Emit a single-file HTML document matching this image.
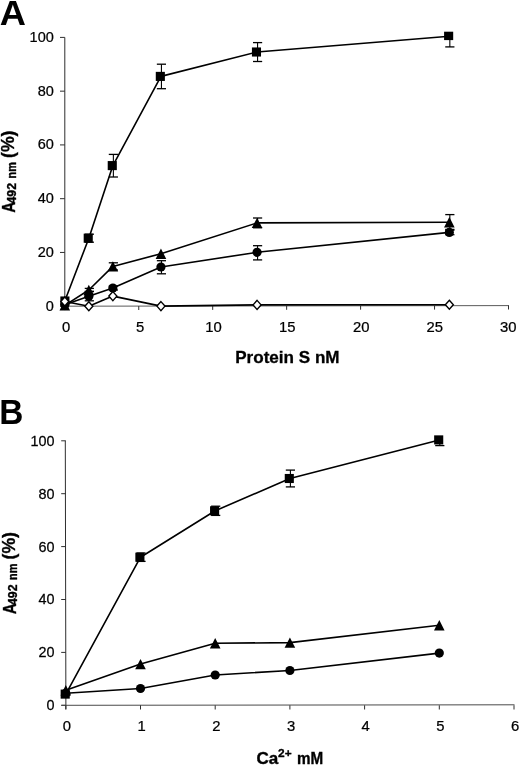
<!DOCTYPE html>
<html><head><meta charset="utf-8"><title>Figure</title>
<style>
html,body{margin:0;padding:0;background:#fff;}
body{width:520px;height:767px;overflow:hidden;font-family:"Liberation Sans",sans-serif;}
svg{display:block;will-change:transform;}
svg text{font-family:"Liberation Sans",sans-serif;fill:#000;}
</style></head>
<body>
<svg width="520" height="767" viewBox="0 0 520 767">
<rect x="0" y="0" width="520" height="767" fill="#fff"/>
<!-- panel A axes -->
<path d="M64.8 37.4V306.7" stroke="#2e2e2e" stroke-width="1" fill="none"/>
<path d="M60 306.2H64.8" stroke="#2e2e2e" stroke-width="1" fill="none"/>
<path d="M60 252.44H64.8" stroke="#2e2e2e" stroke-width="1" fill="none"/>
<path d="M60 198.68H64.8" stroke="#2e2e2e" stroke-width="1" fill="none"/>
<path d="M60 144.92H64.8" stroke="#2e2e2e" stroke-width="1" fill="none"/>
<path d="M60 91.16H64.8" stroke="#2e2e2e" stroke-width="1" fill="none"/>
<path d="M60 37.4H64.8" stroke="#2e2e2e" stroke-width="1" fill="none"/>
<path d="M64.8 306.2L509 305.6" stroke="#5a5a5a" stroke-width="1" fill="none"/>
<path d="M64.8 306.2V310.1" stroke="#2e2e2e" stroke-width="1" fill="none"/>
<path d="M138.75 306.1V310" stroke="#2e2e2e" stroke-width="1" fill="none"/>
<path d="M212.7 306V309.9" stroke="#2e2e2e" stroke-width="1" fill="none"/>
<path d="M286.65 305.9V309.8" stroke="#2e2e2e" stroke-width="1" fill="none"/>
<path d="M360.6 305.8V309.7" stroke="#2e2e2e" stroke-width="1" fill="none"/>
<path d="M434.55 305.7V309.6" stroke="#2e2e2e" stroke-width="1" fill="none"/>
<path d="M508.5 305.6V309.5" stroke="#2e2e2e" stroke-width="1" fill="none"/>
<text transform="translate(53.8 310.75) scale(0.955 1)" text-anchor="end" font-size="15.2" stroke="#000" stroke-width="0.25">0</text>
<text transform="translate(53.8 256.99) scale(0.955 1)" text-anchor="end" font-size="15.2" stroke="#000" stroke-width="0.25">20</text>
<text transform="translate(53.8 203.23) scale(0.955 1)" text-anchor="end" font-size="15.2" stroke="#000" stroke-width="0.25">40</text>
<text transform="translate(53.8 149.47) scale(0.955 1)" text-anchor="end" font-size="15.2" stroke="#000" stroke-width="0.25">60</text>
<text transform="translate(53.8 95.71) scale(0.955 1)" text-anchor="end" font-size="15.2" stroke="#000" stroke-width="0.25">80</text>
<text transform="translate(53.8 41.95) scale(0.955 1)" text-anchor="end" font-size="15.2" stroke="#000" stroke-width="0.25">100</text>
<text transform="translate(66 332.4) scale(0.97 1)" text-anchor="middle" font-size="15.3" stroke="#000" stroke-width="0.25">0</text>
<text transform="translate(140.15 332.4) scale(0.97 1)" text-anchor="middle" font-size="15.3" stroke="#000" stroke-width="0.25">5</text>
<text transform="translate(213.6 332.4) scale(0.97 1)" text-anchor="middle" font-size="15.3" stroke="#000" stroke-width="0.25">10</text>
<text transform="translate(287.35 332.4) scale(0.97 1)" text-anchor="middle" font-size="15.3" stroke="#000" stroke-width="0.25">15</text>
<text transform="translate(361.3 332.4) scale(0.97 1)" text-anchor="middle" font-size="15.3" stroke="#000" stroke-width="0.25">20</text>
<text transform="translate(434.65 332.4) scale(0.97 1)" text-anchor="middle" font-size="15.3" stroke="#000" stroke-width="0.25">25</text>
<text transform="translate(508.3 332.4) scale(0.97 1)" text-anchor="middle" font-size="15.3" stroke="#000" stroke-width="0.25">30</text>
<!-- panel A series -->
<polyline points="64.8,301 88.83,238.2 112.87,165.6 160.94,76.4 257.07,52 449.34,36.2" fill="none" stroke="#000" stroke-width="1.6" stroke-linejoin="round"/><path d="M89.33 238.2V234.2" stroke="#000" stroke-width="1.1" fill="none"/><path d="M84.73 234.2H93.93" stroke="#000" stroke-width="1.3" fill="none"/><path d="M89.33 238.2V242.2" stroke="#000" stroke-width="1.1" fill="none"/><path d="M84.73 242.2H93.93" stroke="#000" stroke-width="1.3" fill="none"/><path d="M113.37 165.6V154.4" stroke="#000" stroke-width="1.1" fill="none"/><path d="M108.77 154.4H117.97" stroke="#000" stroke-width="1.3" fill="none"/><path d="M113.37 165.6V177" stroke="#000" stroke-width="1.1" fill="none"/><path d="M108.77 177H117.97" stroke="#000" stroke-width="1.3" fill="none"/><path d="M161.44 76.4V64.2" stroke="#000" stroke-width="1.1" fill="none"/><path d="M156.84 64.2H166.03" stroke="#000" stroke-width="1.3" fill="none"/><path d="M161.44 76.4V88.7" stroke="#000" stroke-width="1.1" fill="none"/><path d="M156.84 88.7H166.03" stroke="#000" stroke-width="1.3" fill="none"/><path d="M257.57 52V42.6" stroke="#000" stroke-width="1.1" fill="none"/><path d="M252.97 42.6H262.17" stroke="#000" stroke-width="1.3" fill="none"/><path d="M257.57 52V61.5" stroke="#000" stroke-width="1.1" fill="none"/><path d="M252.97 61.5H262.17" stroke="#000" stroke-width="1.3" fill="none"/><path d="M449.84 36.2V46.9" stroke="#000" stroke-width="1.1" fill="none"/><path d="M445.24 46.9H454.44" stroke="#000" stroke-width="1.3" fill="none"/><rect x="60.35" y="296.45" width="9.1" height="9.1" fill="#000"/><rect x="83.68" y="233.65" width="9.1" height="9.1" fill="#000"/><rect x="107.72" y="161.05" width="9.1" height="9.1" fill="#000"/><rect x="155.78" y="71.85" width="9.1" height="9.1" fill="#000"/><rect x="251.92" y="47.45" width="9.1" height="9.1" fill="#000"/><rect x="444.09" y="31.7" width="9.1" height="8.4" fill="#000"/>
<polyline points="64.8,305.3 88.83,290 112.87,266.4 160.94,253.7 257.07,222.9 449.34,222.3" fill="none" stroke="#000" stroke-width="1.6" stroke-linejoin="round"/><path d="M89.33 290V288.4" stroke="#000" stroke-width="1.1" fill="none"/><path d="M84.73 288.4H93.93" stroke="#000" stroke-width="1.3" fill="none"/><path d="M89.33 290V291.6" stroke="#000" stroke-width="1.1" fill="none"/><path d="M84.73 291.6H93.93" stroke="#000" stroke-width="1.3" fill="none"/><path d="M113.37 266.4V262.8" stroke="#000" stroke-width="1.1" fill="none"/><path d="M108.77 262.8H117.97" stroke="#000" stroke-width="1.3" fill="none"/><path d="M113.37 266.4V270" stroke="#000" stroke-width="1.1" fill="none"/><path d="M108.77 270H117.97" stroke="#000" stroke-width="1.3" fill="none"/><path d="M257.57 222.9V218" stroke="#000" stroke-width="1.1" fill="none"/><path d="M252.97 218H262.17" stroke="#000" stroke-width="1.3" fill="none"/><path d="M257.57 222.9V227.8" stroke="#000" stroke-width="1.1" fill="none"/><path d="M252.97 227.8H262.17" stroke="#000" stroke-width="1.3" fill="none"/><path d="M449.84 222.3V214.6" stroke="#000" stroke-width="1.1" fill="none"/><path d="M445.24 214.6H454.44" stroke="#000" stroke-width="1.3" fill="none"/><path d="M449.84 222.3V229.4" stroke="#000" stroke-width="1.1" fill="none"/><path d="M445.24 229.4H454.44" stroke="#000" stroke-width="1.3" fill="none"/><polygon points="64.8,300.1 70.1,310.5 59.5,310.5" fill="#000"/><polygon points="88.83,284.8 94.13,295.2 83.53,295.2" fill="#000"/><polygon points="112.87,261.2 118.17,271.6 107.57,271.6" fill="#000"/><polygon points="160.94,248.5 166.24,258.9 155.63,258.9" fill="#000"/><polygon points="257.07,217.7 262.37,228.1 251.77,228.1" fill="#000"/><polygon points="449.34,217.1 454.64,227.5 444.04,227.5" fill="#000"/>
<polyline points="64.8,304.8 88.83,296.3 112.87,288 160.94,267 257.07,252.3 449.34,232.4" fill="none" stroke="#000" stroke-width="1.6" stroke-linejoin="round"/><path d="M89.33 296.3V291.3" stroke="#000" stroke-width="1.1" fill="none"/><path d="M84.73 291.3H93.93" stroke="#000" stroke-width="1.3" fill="none"/><path d="M89.33 296.3V300.8" stroke="#000" stroke-width="1.1" fill="none"/><path d="M84.73 300.8H93.93" stroke="#000" stroke-width="1.3" fill="none"/><path d="M113.37 288V286" stroke="#000" stroke-width="1.1" fill="none"/><path d="M108.77 286H117.97" stroke="#000" stroke-width="1.3" fill="none"/><path d="M113.37 288V290" stroke="#000" stroke-width="1.1" fill="none"/><path d="M108.77 290H117.97" stroke="#000" stroke-width="1.3" fill="none"/><path d="M161.44 267V260.7" stroke="#000" stroke-width="1.1" fill="none"/><path d="M156.84 260.7H166.03" stroke="#000" stroke-width="1.3" fill="none"/><path d="M161.44 267V273.8" stroke="#000" stroke-width="1.1" fill="none"/><path d="M156.84 273.8H166.03" stroke="#000" stroke-width="1.3" fill="none"/><path d="M257.57 252.3V245.7" stroke="#000" stroke-width="1.1" fill="none"/><path d="M252.97 245.7H262.17" stroke="#000" stroke-width="1.3" fill="none"/><path d="M257.57 252.3V259.9" stroke="#000" stroke-width="1.1" fill="none"/><path d="M252.97 259.9H262.17" stroke="#000" stroke-width="1.3" fill="none"/><path d="M449.84 232.4V230.2" stroke="#000" stroke-width="1.1" fill="none"/><path d="M445.24 230.2H454.44" stroke="#000" stroke-width="1.3" fill="none"/><path d="M449.84 232.4V234.7" stroke="#000" stroke-width="1.1" fill="none"/><path d="M445.24 234.7H454.44" stroke="#000" stroke-width="1.3" fill="none"/><circle cx="64.8" cy="304.8" r="4.6" fill="#000"/><circle cx="88.83" cy="296.3" r="4.6" fill="#000"/><circle cx="112.87" cy="288" r="4.6" fill="#000"/><circle cx="160.94" cy="267" r="4.6" fill="#000"/><circle cx="257.07" cy="252.3" r="4.6" fill="#000"/><circle cx="449.34" cy="232.4" r="4.6" fill="#000"/>
<polyline points="64.8,301.5 88.83,306.2 112.87,296.1 160.94,306.1 257.07,304.9 449.34,304.8" fill="none" stroke="#000" stroke-width="1.6" stroke-linejoin="round"/><polygon points="64.8,297 68.8,301.5 64.8,306 60.8,301.5" fill="#fff" stroke="#000" stroke-width="1.4" stroke-linejoin="miter"/><polygon points="88.83,301.7 92.83,306.2 88.83,310.7 84.83,306.2" fill="#fff" stroke="#000" stroke-width="1.4" stroke-linejoin="miter"/><polygon points="112.87,291.6 116.87,296.1 112.87,300.6 108.87,296.1" fill="#fff" stroke="#000" stroke-width="1.4" stroke-linejoin="miter"/><polygon points="160.94,301.6 164.94,306.1 160.94,310.6 156.94,306.1" fill="#fff" stroke="#000" stroke-width="1.4" stroke-linejoin="miter"/><polygon points="257.07,300.4 261.07,304.9 257.07,309.4 253.07,304.9" fill="#fff" stroke="#000" stroke-width="1.4" stroke-linejoin="miter"/><polygon points="449.34,300.3 453.34,304.8 449.34,309.3 445.34,304.8" fill="#fff" stroke="#000" stroke-width="1.4" stroke-linejoin="miter"/>
<text x="-0.2" y="25" font-size="34.4" font-weight="bold" textLength="26.2" lengthAdjust="spacingAndGlyphs">A</text>
<text x="-0.7" y="423.6" font-size="34.8" font-weight="bold" textLength="24.1" lengthAdjust="spacingAndGlyphs">B</text>
<text x="235.2" y="363.0" font-size="16.3" font-weight="bold" stroke="#000" stroke-width="0.3" textLength="104.4" lengthAdjust="spacingAndGlyphs">Protein S nM</text>
<g transform="translate(15.1 212.8) rotate(-90)" font-weight="bold" stroke="#000" stroke-width="0.35"><text x="0" y="0" font-size="17.6" textLength="11.0" lengthAdjust="spacingAndGlyphs">A</text><text x="9.3" y="1.1" font-size="12" textLength="20.5" lengthAdjust="spacingAndGlyphs">492</text><text x="34.3" y="1.1" font-size="12.5" textLength="16.3" lengthAdjust="spacingAndGlyphs">nm</text><text x="54.8" y="-0.7" font-size="18.4" textLength="27.5" lengthAdjust="spacingAndGlyphs">(%)</text></g>
<!-- panel B axes -->
<path d="M65.3 440.8L65.9 709.3" stroke="#2e2e2e" stroke-width="1" fill="none"/>
<path d="M61.2 705.3H65.8" stroke="#2e2e2e" stroke-width="1" fill="none"/>
<path d="M61.2 652.4H65.8" stroke="#2e2e2e" stroke-width="1" fill="none"/>
<path d="M61.2 599.5H65.8" stroke="#2e2e2e" stroke-width="1" fill="none"/>
<path d="M61.2 546.6H65.8" stroke="#2e2e2e" stroke-width="1" fill="none"/>
<path d="M61.2 493.7H65.8" stroke="#2e2e2e" stroke-width="1" fill="none"/>
<path d="M61.2 440.8H65.8" stroke="#2e2e2e" stroke-width="1" fill="none"/>
<path d="M61.4 705.3L514.5 704.8" stroke="#4a4a4a" stroke-width="1" fill="none"/>
<path d="M65.8 705.3V709.5" stroke="#2e2e2e" stroke-width="1" fill="none"/>
<path d="M140.5 705.3V709.5" stroke="#2e2e2e" stroke-width="1" fill="none"/>
<path d="M215.2 705.3V709.5" stroke="#2e2e2e" stroke-width="1" fill="none"/>
<path d="M289.9 705.3V709.5" stroke="#2e2e2e" stroke-width="1" fill="none"/>
<path d="M364.6 705.3V709.5" stroke="#2e2e2e" stroke-width="1" fill="none"/>
<path d="M439.3 705.3V709.5" stroke="#2e2e2e" stroke-width="1" fill="none"/>
<path d="M514 705.3V709.5" stroke="#2e2e2e" stroke-width="1" fill="none"/>
<text transform="translate(54.4 710.2) scale(0.96 1)" text-anchor="end" font-size="15.0" stroke="#000" stroke-width="0.25">0</text>
<text transform="translate(54.4 657.3) scale(0.96 1)" text-anchor="end" font-size="15.0" stroke="#000" stroke-width="0.25">20</text>
<text transform="translate(54.4 604.4) scale(0.96 1)" text-anchor="end" font-size="15.0" stroke="#000" stroke-width="0.25">40</text>
<text transform="translate(54.4 551.5) scale(0.96 1)" text-anchor="end" font-size="15.0" stroke="#000" stroke-width="0.25">60</text>
<text transform="translate(54.4 498.6) scale(0.96 1)" text-anchor="end" font-size="15.0" stroke="#000" stroke-width="0.25">80</text>
<text transform="translate(54.4 445.7) scale(0.96 1)" text-anchor="end" font-size="15.0" stroke="#000" stroke-width="0.25">100</text>
<text transform="translate(66.9 731.2) scale(0.97 1)" text-anchor="middle" font-size="15.3" stroke="#000" stroke-width="0.25">0</text>
<text transform="translate(141.6 731.2) scale(0.97 1)" text-anchor="middle" font-size="15.3" stroke="#000" stroke-width="0.25">1</text>
<text transform="translate(216.3 731.2) scale(0.97 1)" text-anchor="middle" font-size="15.3" stroke="#000" stroke-width="0.25">2</text>
<text transform="translate(291 731.2) scale(0.97 1)" text-anchor="middle" font-size="15.3" stroke="#000" stroke-width="0.25">3</text>
<text transform="translate(365.7 731.2) scale(0.97 1)" text-anchor="middle" font-size="15.3" stroke="#000" stroke-width="0.25">4</text>
<text transform="translate(440.4 731.2) scale(0.97 1)" text-anchor="middle" font-size="15.3" stroke="#000" stroke-width="0.25">5</text>
<text transform="translate(515.1 731.2) scale(0.97 1)" text-anchor="middle" font-size="15.3" stroke="#000" stroke-width="0.25">6</text>
<!-- panel B series -->
<polyline points="65.8,694.1 140.5,557.2 215.2,510.8 289.9,478.5 439.3,439.9" fill="none" stroke="#000" stroke-width="1.6" stroke-linejoin="round"/><path d="M141 557.2V553" stroke="#000" stroke-width="1.1" fill="none"/><path d="M136.4 553H145.6" stroke="#000" stroke-width="1.3" fill="none"/><path d="M141 557.2V561.4" stroke="#000" stroke-width="1.1" fill="none"/><path d="M136.4 561.4H145.6" stroke="#000" stroke-width="1.3" fill="none"/><path d="M215.7 510.8V506.2" stroke="#000" stroke-width="1.1" fill="none"/><path d="M211.1 506.2H220.3" stroke="#000" stroke-width="1.3" fill="none"/><path d="M215.7 510.8V515.4" stroke="#000" stroke-width="1.1" fill="none"/><path d="M211.1 515.4H220.3" stroke="#000" stroke-width="1.3" fill="none"/><path d="M290.4 478.5V470.1" stroke="#000" stroke-width="1.1" fill="none"/><path d="M285.8 470.1H295" stroke="#000" stroke-width="1.3" fill="none"/><path d="M290.4 478.5V486.9" stroke="#000" stroke-width="1.1" fill="none"/><path d="M285.8 486.9H295" stroke="#000" stroke-width="1.3" fill="none"/><path d="M439.8 439.9V445.6" stroke="#000" stroke-width="1.1" fill="none"/><path d="M435.2 445.6H444.4" stroke="#000" stroke-width="1.3" fill="none"/><rect x="60.65" y="689.55" width="9.1" height="9.1" fill="#000"/><rect x="135.35" y="552.65" width="9.1" height="9.1" fill="#000"/><rect x="210.05" y="506.25" width="9.1" height="9.1" fill="#000"/><rect x="284.75" y="473.95" width="9.1" height="9.1" fill="#000"/><rect x="434.15" y="435.35" width="9.1" height="9.1" fill="#000"/>
<polyline points="65.8,690.3 140.5,664.1 215.2,643.3 289.9,642.6 439.3,625.3" fill="none" stroke="#000" stroke-width="1.6" stroke-linejoin="round"/><polygon points="65.8,685.1 71.1,695.5 60.5,695.5" fill="#000"/><polygon points="140.5,658.9 145.8,669.3 135.2,669.3" fill="#000"/><polygon points="215.2,638.1 220.5,648.5 209.9,648.5" fill="#000"/><polygon points="289.9,637.4 295.2,647.8 284.6,647.8" fill="#000"/><polygon points="439.3,620.1 444.6,630.5 434,630.5" fill="#000"/>
<polyline points="65.8,693.3 140.5,688.5 215.2,675 289.9,670.5 439.3,653.1" fill="none" stroke="#000" stroke-width="1.6" stroke-linejoin="round"/><circle cx="65.8" cy="693.3" r="4.6" fill="#000"/><circle cx="140.5" cy="688.5" r="4.6" fill="#000"/><circle cx="215.2" cy="675" r="4.6" fill="#000"/><circle cx="289.9" cy="670.5" r="4.6" fill="#000"/><circle cx="439.3" cy="653.1" r="4.6" fill="#000"/>
<g transform="translate(15.9 614.3) rotate(-90)" font-weight="bold" stroke="#000" stroke-width="0.35"><text x="0" y="0" font-size="17.6" textLength="11.0" lengthAdjust="spacingAndGlyphs">A</text><text x="9.3" y="1.1" font-size="12" textLength="20.5" lengthAdjust="spacingAndGlyphs">492</text><text x="34.3" y="1.1" font-size="12.5" textLength="16.3" lengthAdjust="spacingAndGlyphs">nm</text><text x="54.8" y="-0.7" font-size="18.4" textLength="27.5" lengthAdjust="spacingAndGlyphs">(%)</text></g>
<text x="256.4" y="763.5" font-size="16.2" font-weight="bold" stroke="#000" stroke-width="0.35" textLength="21.8" lengthAdjust="spacingAndGlyphs">Ca</text>
<text x="278.0" y="757.0" font-size="11.2" font-weight="bold" stroke="#000" stroke-width="0.3" textLength="13.6" lengthAdjust="spacingAndGlyphs">2+</text>
<text x="297.0" y="763.5" font-size="16.2" font-weight="bold" stroke="#000" stroke-width="0.35" textLength="26.2" lengthAdjust="spacingAndGlyphs">mM</text>
</svg>
</body></html>
